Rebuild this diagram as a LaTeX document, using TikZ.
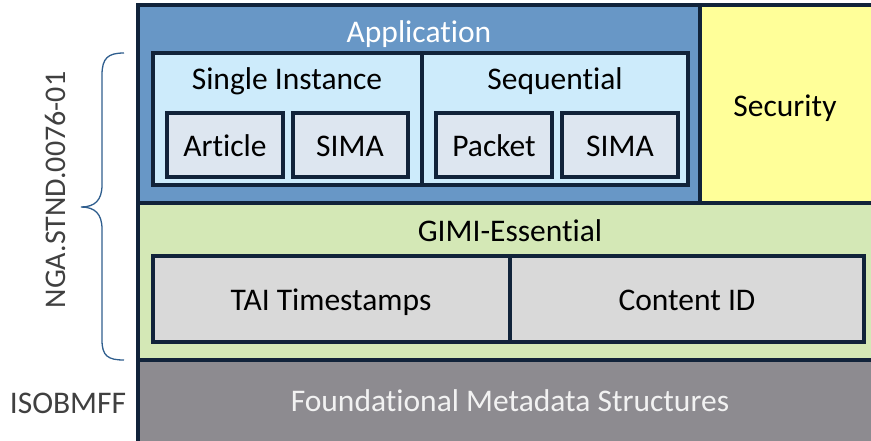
\documentclass[tikz,border=0pt]{standalone}
\usepackage{fontspec}
\setmainfont{Carlito}[Ligatures=NoCommon]
\usetikzlibrary{positioning}
\definecolor{edge}{HTML}{11233A}
\definecolor{appblue}{HTML}{6897C6}
\definecolor{modeblue}{HTML}{CDEBFB}
\definecolor{partblue}{HTML}{DDE6F0}
\definecolor{secyellow}{HTML}{FFFF99}
\definecolor{essgreen}{HTML}{D4E8B6}
\definecolor{partgray}{HTML}{D9D9D9}
\definecolor{basegray}{HTML}{8D8B90}
\definecolor{sidegray}{HTML}{404040}
\definecolor{bracecol}{HTML}{2F5E8E}
\tikzset{
 layer/.style={draw=edge,line width=3.6pt},
 part/.style={draw=edge,line width=3.2pt},
 lbl/.style={inner sep=0pt,anchor=base,font=\fontsize{31.5}{31.5}\selectfont}
}
\begin{document}
\begin{tikzpicture}[x=1pt,y=-1pt]
\useasboundingbox (0,0) rectangle (871,440);
% layers, top to bottom
\filldraw[layer,fill=appblue] (138,5) rectangle (700,203);
\filldraw[layer,fill=secyellow] (700,5) rectangle (875,203);
\filldraw[layer,fill=essgreen] (138,203) rectangle (875,360);
\filldraw[layer,fill=basegray] (138,360) rectangle (875,444);
% application modes and their parts
\filldraw[part,fill=modeblue] (153,53) rectangle (422,185);
\filldraw[part,fill=modeblue] (422,53) rectangle (688,185);
\filldraw[part,fill=partblue] (167,113) rectangle (283,177);
\filldraw[part,fill=partblue] (293,113) rectangle (408,177);
\filldraw[part,fill=partblue] (436,113) rectangle (552,177);
\filldraw[part,fill=partblue] (562,113) rectangle (678,177);
% essential parts
\filldraw[part,fill=partgray] (153,256) rectangle (510,342);
\filldraw[part,fill=partgray] (510,256) rectangle (864,342);
% texts, placed on their baselines
\node[lbl,text=white] (application) at (419,42) {Application};
\node[lbl] (single) at (287,89) {Single Instance};
\node[lbl] (sequential) at (555,89) {Sequential};
\node[lbl] (article) at (225,156) {Article};
\node[lbl] (sima1) at (350,156) {SIMA};
\node[lbl] (packet) at (494,156) {Packet};
\node[lbl] (sima2) at (620,156) {SIMA};
\node[lbl] (security) at (785,116) {Security};
\node[lbl] (essential) at (510,241) {GIMI-Essential};
\node[lbl] (tai) at (331,310) {TAI Timestamps};
\node[lbl] (contentid) at (687,310) {Content ID};
\node[lbl,text=white!95!black] (foundation) at (510,411) {Foundational Metadata Structures};
% side labels
\node[lbl,text=sidegray] (isobmff) at (68,413) {ISOBMFF};
\node[lbl,text=sidegray,rotate=90,font=\fontsize{30}{30}\selectfont] (stnd) at (65,190) {NGA.STND.0076-01};
\draw[bracecol,line width=1.3pt] (124,53) .. controls (108,53) and (102,58) .. (102,75) -- (102,185) .. controls (102,200) and (95,207) .. (81,207) .. controls (95,207) and (102,214) .. (102,229) -- (102,340) .. controls (102,356) and (108,360) .. (124,360);
\end{tikzpicture}
\end{document}
